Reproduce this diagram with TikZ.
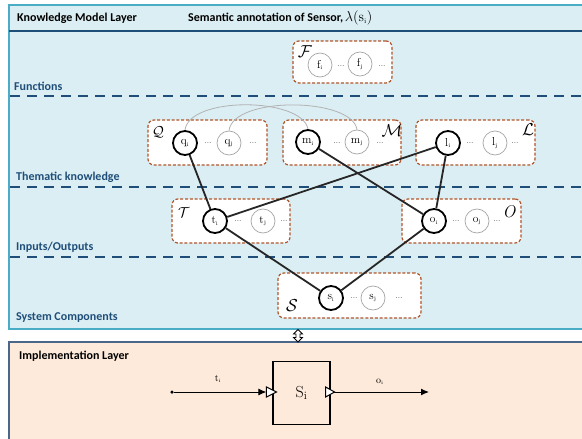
\documentclass[tikz,border=0pt]{standalone}
\usepackage{fontspec}
\newfontfamily\lab{Carlito}
\usetikzlibrary{arrows.meta}

\definecolor{paneblue}{HTML}{DBEEF4}
\definecolor{paneedge}{HTML}{4BACC6}
\definecolor{navy}{HTML}{1F4E79}
\definecolor{rust}{HTML}{B0562A}
\definecolor{paneorange}{HTML}{FDEADA}
\definecolor{slate}{HTML}{4A6688}

\tikzset{
  labfont/.style={font=\lab\bfseries\fontsize{12}{14}\selectfont},
  layerlabel/.style={labfont, anchor=west, text=navy, inner sep=0pt},
  separator/.style={draw=navy, line width=1.8pt, dash pattern=on 10pt off 7pt},
  group/.style={draw=rust, fill=white, line width=1.2pt, dash pattern=on 3pt off 1.8pt,
                rounded corners=6pt, inner sep=0pt},
  concept/.style={circle, inner sep=0pt, minimum size=24pt, font=\fontsize{11.5}{13}\selectfont},
  active/.style={concept, draw=black, line width=1.8pt},
  passive/.style={concept, draw=black!35, line width=0.7pt},
  ell/.style={inner sep=0pt, font=\fontsize{8}{9}\selectfont, yshift=2pt},
  setname/.style={inner sep=0pt},
  link/.style={draw=black!85, line width=1.8pt},
  related/.style={draw=black!30, line width=0.8pt},
  signal/.style={draw=black, line width=1pt, -{Latex[length=8pt,width=7pt]}},
  port/.style={draw=black, fill=white, line width=1pt}
}

\newcommand{\ci}[1]{$\mathrm{#1}_{\scriptscriptstyle\mathrm{i}}$}
\newcommand{\cj}[1]{$\mathrm{#1}_{\scriptscriptstyle\mathrm{j}}$}

\begin{document}
\begin{tikzpicture}[x=1pt, y=-1pt]
\useasboundingbox (0,0) rectangle (582,439);
\clip (0,0) rectangle (582,439);

% knowledge model panel
\fill[white] (0,0) rectangle (582,439);
\draw[fill=paneblue, draw=paneedge, line width=1.5pt] (9,5) rectangle (600,329);
\draw[draw=navy, line width=1.5pt] (9,31) -- (600,31);
\node[labfont, anchor=west, inner sep=0pt] (kml) at (17,18) {Knowledge Model Layer};
\node[anchor=west, inner sep=0pt] (sem) at (188,18)
  {{\lab\bfseries\fontsize{12}{14}\selectfont Semantic annotation of Sensor,}\,{\fontsize{14}{15}\selectfont$\lambda(\mathrm{s}_{\scriptscriptstyle\mathrm{i}})$}};

% level separators
\draw[separator] (10,96) -- (590,96);
\draw[separator] (10,187) -- (590,187);
\draw[separator] (10,257) -- (590,257);

\node[layerlabel] (lfun) at (14,86) {Functions};
\node[layerlabel] (lthe) at (16,177) {Thematic knowledge};
\node[layerlabel] (lio)  at (16,247) {Inputs/Outputs};
\node[layerlabel] (lsys) at (16,318) {System Components};

% concept groups
\node[group, minimum width=99pt, minimum height=42pt] (gF) at (342.5,62) {};
\node[group, minimum width=119pt, minimum height=45pt] (gQ) at (207.5,142.5) {};
\node[group, minimum width=118pt, minimum height=45pt] (gM) at (342,142.5) {};
\node[group, minimum width=119pt, minimum height=45pt] (gL) at (475.5,142.5) {};
\node[group, minimum width=118pt, minimum height=44pt] (gT) at (231,221) {};
\node[group, minimum width=119pt, minimum height=44pt] (gO) at (461.5,221) {};
\node[group, minimum width=143pt, minimum height=45pt] (gS) at (349.5,295.5) {};

% set names
\node[setname, font=\fontsize{19}{20}\selectfont] (nF) at (305,52) {$\mathcal{F}$};
\node[setname, font=\fontsize{15}{16}\selectfont] (nQ) at (158,132) {$\mathcal{Q}$};
\node[setname, font=\fontsize{16}{17}\selectfont] (nM) at (392,131) {$\mathcal{M}$};
\node[setname, font=\fontsize{16}{17}\selectfont] (nL) at (528,130) {$\mathcal{L}$};
\node[setname, font=\fontsize{15}{16}\selectfont] (nT) at (184,213) {$\mathcal{T}$};
\node[setname, font=\fontsize{17}{18}\selectfont] (nO) at (509,212) {$\mathit{O}$};
\node[setname, font=\fontsize{19}{20}\selectfont] (nS) at (292,306) {$\mathcal{S}$};

% functions
\node[passive] (fi) at (320,65) {\ci{f}};
\node[ell] (fd1) at (341,68) {...};
\node[passive] (fj) at (360,64) {\cj{f}};
\node[ell] (fd2) at (382,68) {...};

% thematic knowledge
\node[active]  (qi) at (185,143) {\ci{q}};
\node[ell] (qd1) at (208,145) {...};
\node[passive] (qj) at (229,143) {\cj{q}};
\node[ell] (qd2) at (253,145) {...};

\node[active]  (mi) at (308,142) {\ci{m}};
\node[ell] (md1) at (337,145) {...};
\node[passive] (mj) at (357,142) {\cj{m}};
\node[ell] (md2) at (380,145) {...};

\node[active]  (li) at (448,143) {\ci{l}};
\node[ell] (ld1) at (470,145) {...};
\node[passive] (lj) at (495,143) {\cj{l}};
\node[ell] (ld2) at (515,145) {...};

% inputs / outputs
\node[active]  (ti) at (215,221) {\ci{t}};
\node[ell] (td1) at (238,223) {...};
\node[passive] (tj) at (263,221) {\cj{t}};
\node[ell] (td2) at (284,223) {...};

\node[active]  (oi) at (434,221) {\ci{o}};
\node[ell] (od1) at (456,223) {...};
\node[passive] (oj) at (477,221) {\cj{o}};
\node[ell] (od2) at (497,223) {...};

% system components
\node[active]  (si) at (331,298) {\ci{s}};
\node[ell] (sd1) at (354,300) {...};
\node[passive] (sj) at (373,298) {\cj{s}};
\node[ell] (sd2) at (399,300) {...};

% relations among thematic concepts
\draw[related] (qi.north) .. controls (189,96) and (302,97) .. (mi.north);
\draw[related] (qj.north) .. controls (233,96) and (352,97) .. (mj.north);

% semantic links of the annotated sensor
\draw[link] (qi) -- (ti);
\draw[link] (li) -- (ti);
\draw[link] (mi) -- (oi);
\draw[link] (li) -- (oi);
\draw[link] (ti) -- (si);
\draw[link] (oi) -- (si);

% implementation panel
\draw[fill=paneorange, draw=slate, line width=1.3pt] (9,342) rectangle (600,460);
\node[labfont, anchor=west, inner sep=0pt] (impl) at (19,356) {Implementation Layer};

% link between the two layers
\draw[fill=white, draw=black, line width=0.8pt]
  (298,329.5) -- (302.5,334) -- (300,334) -- (300,337.5) -- (302.5,337.5) -- (298,342)
  -- (293.5,337.5) -- (296,337.5) -- (296,334) -- (293.5,334) -- cycle;

% sensor block
\node[draw=black, line width=1.2pt, minimum width=57pt, minimum height=63pt, inner sep=0pt,
      font=\fontsize{16}{17}\selectfont] (sens) at (301.5,393) {$\mathrm{S}_{\mathrm{i}}$};
\coordinate (inport) at ([yshift=1pt]sens.west);
\coordinate (outport) at ([yshift=1pt]sens.east);
\node[circle, fill=black, inner sep=0pt, minimum size=3.5pt] (src) at (172,392) {};
\coordinate (sink) at (429,392);

\draw[signal] (src) -- ([xshift=-6pt]inport);
\draw[signal] ([xshift=3pt]outport) -- (sink);
\draw[port] ([xshift=-6pt,yshift=5pt]inport) -- ([xshift=4pt]inport) -- ([xshift=-6pt,yshift=-5pt]inport) -- cycle;
\draw[port] ([xshift=-5pt,yshift=5pt]outport) -- ([xshift=4pt]outport) -- ([xshift=-5pt,yshift=-5pt]outport) -- cycle;

\node[inner sep=0pt, font=\fontsize{10}{11}\selectfont] (tin) at (218,379) {\ci{t}};
\node[inner sep=0pt, font=\fontsize{10}{11}\selectfont] (oout) at (380,382) {\ci{o}};
\end{tikzpicture}
\end{document}
